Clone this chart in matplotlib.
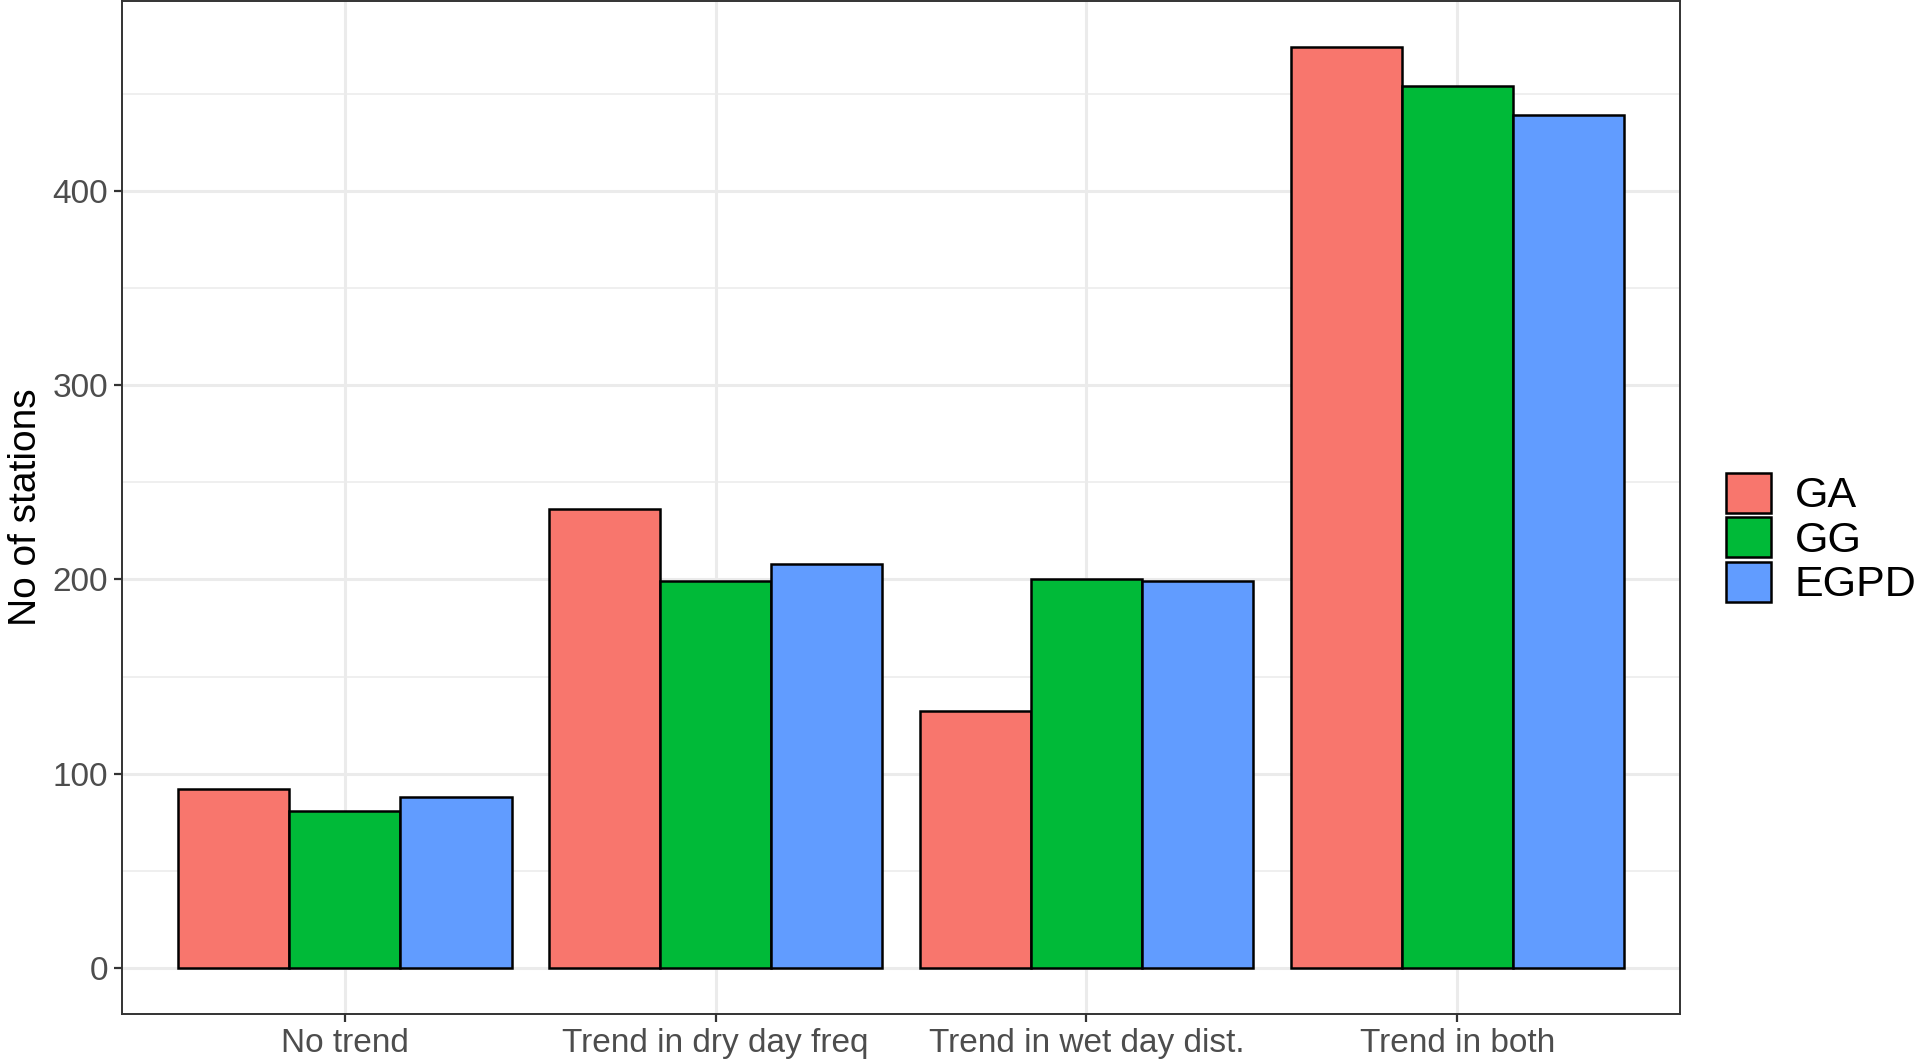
import numpy as np
import matplotlib
matplotlib.use("Agg")
import matplotlib.pyplot as plt
from matplotlib.patches import Patch

plt.rcParams['font.family'] = ['Liberation Sans', 'DejaVu Sans']

# data
categories = ['No trend', 'Trend in dry day freq', 'Trend in wet day dist.', 'Trend in both']
models = ['GA', 'GG', 'EGPD']
ga = [92, 236, 132, 474]
gg = [81, 199, 200, 454]
egpd = [88, 208, 199, 439]
colors = ['#F8766D', '#00BA38', '#619CFF']

values = [ga, gg, egpd]

fig = plt.figure(figsize=(19.2, 10.6), dpi=100)
ax = fig.add_axes([122 / 1920, 1 - 1014 / 1060, (1680 - 122) / 1920, 1013 / 1060])

x = np.arange(1, len(categories) + 1)
w = 0.9 / 3
for i, (m, v) in enumerate(zip(models, values)):
    ax.bar(x + (i - 1) * w, v, width=w, color=colors[i], edgecolor='black',
           linewidth=1.8, label=m, zorder=3)

top = max(max(v) for v in values)
ax.set_xlim(0.4, len(categories) + 0.6)
ax.set_ylim(-0.05 * top, top * 1.05)

ax.set_yticks([0, 100, 200, 300, 400])
ax.set_yticks([50, 150, 250, 350, 450], minor=True)
ax.set_xticks(x)
ax.set_xticklabels(categories)

ax.grid(which='major', color='#EBEBEB', linewidth=2.2, zorder=0)
ax.grid(which='minor', axis='y', color='#EBEBEB', linewidth=1.1, zorder=0)
ax.tick_params(which='minor', length=0)
ax.tick_params(which='major', length=6, width=1.6, color='#333333',
               labelsize=24, labelcolor='#4D4D4D', pad=4)
for s in ax.spines.values():
    s.set_color('#333333')
    s.set_linewidth(1.4)

ax.set_ylabel('No of stations', fontsize=28, color='black', labelpad=6)

handles = [Patch(facecolor=c, edgecolor='black', linewidth=1.8) for c in colors]
fig.legend(handles, models, loc='center left', bbox_to_anchor=(1726 / 1920, 1 - 539 / 1060),
           frameon=False, fontsize=31, handlelength=1.05, handleheight=1.05,
           handletextpad=0.55, labelspacing=0.02, borderaxespad=0, borderpad=0)

fig.savefig('out.png', dpi=100)
